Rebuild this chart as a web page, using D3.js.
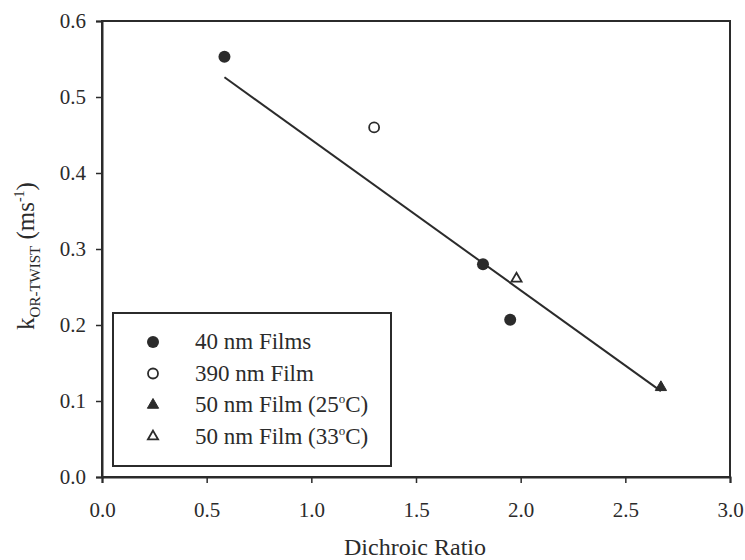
<!DOCTYPE html>
<html>
<head>
<meta charset="utf-8">
<script src="https://cdn.jsdelivr.net/npm/d3@7"></script>
<style>
  body { margin: 0; background: #fff; }
  text { font-family: 'Liberation Serif', 'Times New Roman', serif; fill: #2b2b2b; }
</style>
</head>
<body>
<div class="chart"></div>
<script>
// data
const seriesNames = ['40 nm Films', '390 nm Film', '50 nm Film (25°C)', '50 nm Film (33°C)']
const seriesX = [[0.585, 1.82, 1.95], [1.30], [2.67], [1.98]]
const seriesY = [[0.553, 0.280, 0.207], [0.460], [0.118], [0.261]]
const fitX = [0.585, 2.67]
const fitY = [0.526, 0.113]
const xTicks = [0, 0.5, 1, 1.5, 2, 2.5, 3]
const yTicks = [0, 0.1, 0.2, 0.3, 0.4, 0.5, 0.6]

const margin = ({ top: 21, right: 15, bottom: 83, left: 102 })
const width = 745 - margin.left - margin.right
const height = 560 - margin.top - margin.bottom
const ink = '#2b2b2b'

const svg = d3.select('.chart')
    .append('svg')
    .attr('width', 745)
    .attr('height', 560)
    .append('g')
    .attr('transform', 'translate(' + margin.left + ',' + margin.top + ')')

const xScale = d3.scaleLinear().domain([0, 3]).range([0, width])
const yScale = d3.scaleLinear().domain([0, 0.6]).range([height, 0])

// frame
svg.append('rect')
    .attr('width', width)
    .attr('height', height)
    .attr('fill', 'none')
    .attr('stroke', ink)
    .attr('stroke-width', 2)

const xAxis = d3.axisBottom(xScale).tickValues(xTicks).tickFormat(d3.format('.1f')).tickSize(6).tickPadding(19)
const yAxis = d3.axisLeft(yScale).tickValues(yTicks).tickFormat(d3.format('.1f')).tickSize(6).tickPadding(10)

svg.append('g').attr('class', 'axis x-axis')
    .attr('transform', `translate(0, ${height})`)
    .call(xAxis)
svg.append('g').attr('class', 'axis y-axis')
    .call(yAxis)

svg.selectAll('.axis .domain').attr('stroke', ink).attr('stroke-width', 2)
svg.selectAll('.axis line').attr('stroke', ink).attr('stroke-width', 1.5)
svg.selectAll('.axis text')
    .attr('font-family', "'Liberation Serif', serif")
    .attr('font-size', 21)
    .attr('fill', ink)

// axis titles
svg.append('text')
    .attr('x', 313)
    .attr('y', height + 78)
    .attr('text-anchor', 'middle')
    .attr('font-size', 24)
    .text('Dichroic Ratio')

const yLabel = svg.append('text')
    .attr('transform', `translate(${34 - margin.left}, ${256 - margin.top}) rotate(-90)`)
    .attr('text-anchor', 'middle')
    .attr('font-size', 25)
yLabel.append('tspan').text('k')
yLabel.append('tspan').attr('font-size', 15).attr('dy', 6).text('OR-TWIST')
yLabel.append('tspan').attr('dy', -6).text(' (ms')
yLabel.append('tspan').attr('font-size', 14).attr('dy', -10).text('-1')
yLabel.append('tspan').attr('dy', 10).text(')')

// fit line
svg.append('line')
    .attr('x1', xScale(fitX[0]))
    .attr('y1', yScale(fitY[0]))
    .attr('x2', xScale(fitX[1]))
    .attr('y2', yScale(fitY[1]))
    .attr('stroke', ink)
    .attr('stroke-width', 2)

// markers
function marker(g, i) {
    if (i === 0) {
        g.append('circle').attr('r', 6).attr('fill', ink)
    } else if (i === 1) {
        g.append('circle').attr('r', 5).attr('fill', '#fff').attr('stroke', ink).attr('stroke-width', 1.8)
    } else if (i === 2) {
        g.append('path').attr('d', d3.symbol().type(d3.symbolTriangle).size(55)()).attr('fill', ink).attr('stroke', ink).attr('stroke-width', 1)
    } else {
        g.append('path').attr('d', d3.symbol().type(d3.symbolTriangle).size(45)()).attr('fill', '#fff').attr('stroke', ink).attr('stroke-width', 1.8)
    }
}

seriesNames.forEach((name, i) => {
    seriesX[i].forEach((x, j) => {
        const g = svg.append('g')
            .attr('transform', `translate(${xScale(x)}, ${yScale(seriesY[i][j])})`)
        marker(g, i)
    })
})

// legend
const legend = svg.append('g').attr('transform', `translate(${113 - margin.left}, ${313 - margin.top})`)
legend.append('rect')
    .attr('width', 278)
    .attr('height', 153)
    .attr('fill', '#fff')
    .attr('stroke', ink)
    .attr('stroke-width', 2)

seriesNames.forEach((name, i) => {
    const row = legend.append('g').attr('transform', `translate(40, ${29 + i * 31.5})`)
    marker(row.append('g'), i)
    const t = row.append('text')
        .attr('x', 42)
        .attr('y', 7)
        .attr('font-size', 23)
    if (name.includes('°C')) {
        const parts = name.split('°')
        t.append('tspan').text(parts[0])
        t.append('tspan').attr('font-size', 13).attr('dy', -9).text('o')
        t.append('tspan').attr('dy', 9).text(parts[1])
    } else {
        t.text(name)
    }
})
</script>
</body>
</html>
